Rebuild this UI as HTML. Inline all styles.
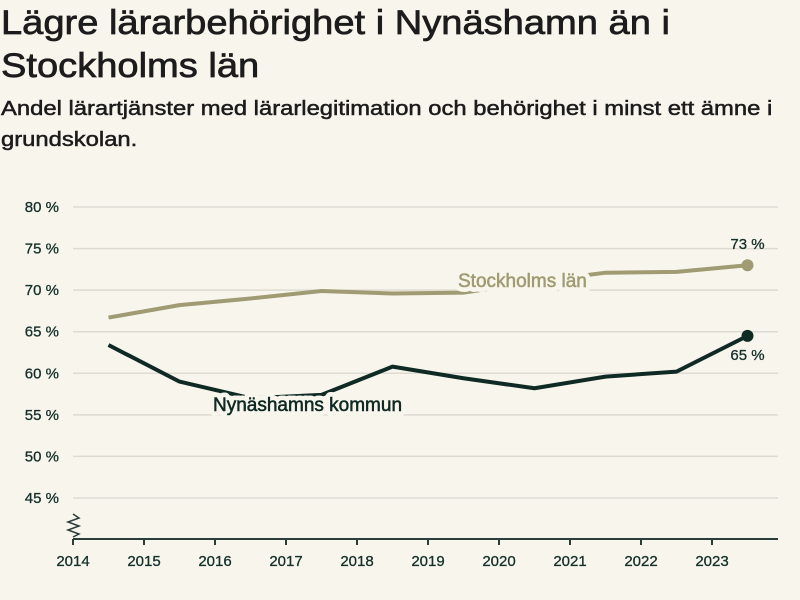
<!DOCTYPE html>
<html><head><meta charset="utf-8"><style>
body{margin:0;background:#f8f5ec;font-family:"Liberation Sans",sans-serif;color:#1a2a26}
#wrap{width:800px;height:600px;position:relative;overflow:hidden;background:#f8f5ec}
h1{position:absolute;left:1px;top:2px;margin:0;font-size:34px;line-height:43px;font-weight:normal;-webkit-text-stroke:0.7px #1c1c1c;color:#1c1c1c;white-space:nowrap;transform:scaleX(1.12);transform-origin:0 0}
h2{position:absolute;left:1px;top:94px;margin:0;font-size:20px;line-height:31px;font-weight:normal;-webkit-text-stroke:0.5px #1c1c1c;color:#1c1c1c;white-space:nowrap;transform:scaleX(1.19);transform-origin:0 0}
</style></head><body>
<div id="wrap">
<h1>Lägre lärarbehörighet i Nynäshamn än i<br>Stockholms län</h1>
<h2>Andel lärartjänster med lärarlegitimation och behörighet i minst ett ämne i<br>grundskolan.</h2>
<svg id="chart" width="800" height="600" style="position:absolute;left:0;top:0"></svg>
</div>
<script>
const years=[2014.5,2015.5,2016.5,2017.5,2018.5,2019.5,2020.5,2021.5,2022.5,2023.5];
const stockholm=[66.7,68.2,69.0,69.9,69.6,69.7,71.0,72.1,72.2,73.0];
const nynashamn=[63.4,59.0,57.0,57.4,60.8,59.4,58.2,59.6,60.2,64.5];
const yTicks=[45,50,55,60,65,70,75,80];
const xTicks=[2014,2015,2016,2017,2018,2019,2020,2021,2022,2023];
const NS='http://www.w3.org/2000/svg';
const svg=document.getElementById('chart');
const x=v=>73+(v-2014)*71;
const y=v=>498-(v-45)*8.314;
function mk(t,a){const e=document.createElementNS(NS,t);for(const k in a)e.setAttribute(k,a[k]);svg.appendChild(e);return e;}
yTicks.forEach(t=>{
 const g=mk('line',{x1:73,x2:778,y1:y(t),y2:y(t),stroke:'#dedbd3','stroke-width':1.5});
 
 
 const l=mk('text',{x:59,y:y(t)+5,'text-anchor':'end','font-size':15,fill:'#14302a',stroke:'#14302a','stroke-width':0.3,'font-family':'Liberation Sans, sans-serif'});
 l.textContent=t+' %';
 
 
});
const ax=mk('line',{x1:73,x2:778,y1:539,y2:539,stroke:'#2a3d38','stroke-width':2});


const zz=mk('path',{d:'M73,514 L79,518 L68,522 L79,526 L68,530 L79,534 L73,537',fill:'none',stroke:'#2a3d38','stroke-width':1.5});


xTicks.forEach(t=>{
 const tk=mk('line',{x1:x(t),x2:x(t),y1:539,y2:545,stroke:'#2a3d38','stroke-width':2});
 
 
 const l=mk('text',{x:x(t),y:566,'text-anchor':'middle','font-size':15,fill:'#14302a',stroke:'#14302a','stroke-width':0.3,'font-family':'Liberation Sans, sans-serif'});
 l.textContent=t;
 
 
});
function series(vals,color,name){
 const d=vals.map((v,i)=>(i?'L':'M')+x(years[i])+','+y(v)).join(' ');
 const p=mk('path',{d:d,fill:'none',stroke:color,'stroke-width':4,'stroke-linejoin':'round'});
 
 
 const n=vals.length-1;
 const c=mk('circle',{cx:x(years[n]),cy:y(vals[n]),r:6,fill:color});
 
 
}
series(stockholm,'#a09b72','stockholm');
series(nynashamn,'#0f2a24','nynashamn');
function label(txt,lx,ly,color,name){
 const t=mk('text',{x:lx,y:ly,'font-size':19,fill:color,'font-family':'Liberation Sans, sans-serif',stroke:'#f8f5ec','stroke-width':10,'paint-order':'stroke','stroke-linejoin':'round'});
 t.textContent=txt;
 
 
 const t2=mk('text',{x:lx,y:ly,'font-size':19,fill:color,stroke:color,'stroke-width':0.5,'font-family':'Liberation Sans, sans-serif'});
 t2.textContent=txt;
 
 
}
label('Stockholms län',458,287,'#a09b72','stockholm-label');
label('Nynäshamns kommun',213,411,'#0f2a24','nynashamn-label');
const n=years.length-1;
const v1=mk('text',{x:x(years[n]),y:y(stockholm[n])-16,'text-anchor':'middle','font-size':15,fill:'#14302a',stroke:'#14302a','stroke-width':0.3,'font-family':'Liberation Sans, sans-serif'});
v1.textContent=Math.round(stockholm[n])+' %';


const v2=mk('text',{x:x(years[n]),y:y(nynashamn[n])+24,'text-anchor':'middle','font-size':15,fill:'#14302a',stroke:'#14302a','stroke-width':0.3,'font-family':'Liberation Sans, sans-serif'});
v2.textContent=Math.round(nynashamn[n])+' %';


</script>
</body></html>
